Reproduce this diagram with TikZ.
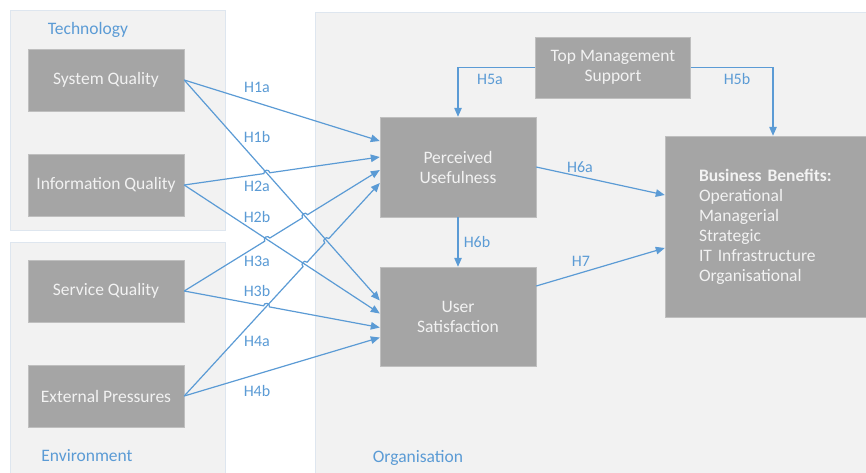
\documentclass[tikz,border=0pt]{standalone}
\usepackage{fontspec}
\setmainfont{Carlito}
\usetikzlibrary{arrows.meta,positioning,calc,intersections}
\definecolor{linkblue}{HTML}{5B9BD5}
\definecolor{boxgray}{HTML}{A5A5A5}
\definecolor{boxedge}{HTML}{BFBFBF}
\definecolor{panelgray}{HTML}{F2F2F2}
\definecolor{paneledge}{HTML}{DEE6EF}
\begin{document}
\begin{tikzpicture}[x=1pt,y=-1pt]

    \tikzset{
      factor/.style={
        draw=boxedge,
        fill=boxgray,
        text=panelgray,
        minimum width=156pt,
        minimum height=62pt,
        inner sep=0pt,
        align=center,
        font=\fontsize{17.5}{20}\selectfont,
      },
      link/.style={color=linkblue, line width=1.2pt, -{Triangle[length=9pt,width=7.5pt]}},
      hop/.style={bend left=90, looseness=1.7},
      hyp/.style={text=linkblue, font=\fontsize{16}{18}\selectfont},
      panel/.style={fill=panelgray, draw=paneledge},
    }
    \useasboundingbox (0,0) rectangle (866,472);
    \fill[white] (0,0) rectangle (866,472);

	% panels
	\draw[panel] (10,10) rectangle (225,230);
	\draw[panel] (10,242) rectangle (225,480);
	\draw[panel] (315,12) rectangle (880,480);
	\node[hyp,font=\fontsize{17.5}{20}\selectfont] (tech) at (88,30) {Technology};
	\node[hyp,font=\fontsize{17.5}{20}\selectfont] (env) at (87,456) {Environment};
	\node[hyp,font=\fontsize{17.5}{20}\selectfont] (org) at (418,458) {Organisation};

	% factors
	\node[factor] (sq) at (106,80) {System Quality};
	\node[factor] (iq) at (106,185) {Information Quality};
	\node[factor] (svq) at (106,291) {Service Quality};
	\node[factor] (ep) at (106,396) {External Pressures};
	\node[factor,minimum width=155pt,minimum height=61pt] (tms) at (613,67.5) {Top Management\\Support};
	\node[factor,minimum height=100pt] (pu) at (458,167) {Perceived\\Usefulness};
	\node[factor,minimum height=99pt] (us) at (458,316.5) {User\\Satisfaction};
	\node[factor,minimum width=201pt,minimum height=181pt,text width=133pt,inner xsep=34pt,align=left] (bb) at (765.5,226.5) {\textbf{Business Benefits:}\\Operational\\Managerial\\Strategic\\IT Infrastructure\\Organisational};

	% arrow ends on the left of PU and US
	\coordinate (pu1) at ([yshift=26pt]pu.west);
	\coordinate (pu2) at ([yshift=10pt]pu.west);
	\coordinate (pu3) at ([yshift=-3pt]pu.west);
	\coordinate (pu4) at ([yshift=-16pt]pu.west);
	\coordinate (us1) at ([yshift=16pt]us.west);
	\coordinate (us2) at ([yshift=3pt]us.west);
	\coordinate (us3) at ([yshift=-11pt]us.west);
	\coordinate (us4) at ([yshift=-21pt]us.west);

	% crossings
	\path[name path=l1b] (sq.east) -- (us1);
	\path[name path=l2a] (iq.east) -- (pu2);
	\path[name path=l2b] (iq.east) -- (us2);
	\path[name path=l3a] (svq.east) -- (pu3);
	\path[name path=l3b] (svq.east) -- (us3);
	\path[name path=l4a] (ep.east) -- (pu4);
	\path[name intersections={of=l1b and l2a,by=c1}];
	\path[name intersections={of=l2b and l3a,by=c2}];
	\path[name intersections={of=l1b and l3a,by=c3}];
	\path[name intersections={of=l2b and l4a,by=c4}];
	\path[name intersections={of=l1b and l4a,by=c5}];
	\path[name intersections={of=l4a and l3b,by=c6}];

	% hypotheses
	\draw[link] (sq.east) -- (pu1);
	\draw[link] (sq.east) -- (us1);
	\draw[link] (iq.east) -- ($(c1)!3pt!(iq.east)$) to[hop] ($(c1)!3pt!(pu2)$) -- (pu2);
	\draw[link] (iq.east) -- (us2);
	\draw[link] (svq.east) -- ($(c2)!3pt!(svq.east)$) to[hop] ($(c2)!3pt!(pu3)$)
		-- ($(c3)!3pt!(svq.east)$) to[hop] ($(c3)!3pt!(pu3)$) -- (pu3);
	\draw[link] (svq.east) -- ($(c6)!3pt!(svq.east)$) to[hop] ($(c6)!3pt!(us3)$) -- (us3);
	\draw[link] (ep.east) -- ($(c4)!3pt!(ep.east)$) to[hop] ($(c4)!3pt!(pu4)$)
		-- ($(c5)!3pt!(ep.east)$) to[hop] ($(c5)!3pt!(pu4)$) -- (pu4);
	\draw[link] (ep.east) -- (us4);
	\draw[link] (tms.west) -| (pu.north);
	\draw[link] (tms.east) -| ([xshift=7.5pt]bb.north);
	\draw[link] (pu.east) -- ([yshift=31.5pt]bb.west);
	\draw[link] (pu.south) -- (us.north);
	\draw[link] ([yshift=30.5pt]us.east) -- ([yshift=-21.5pt]bb.west);

	\node[hyp] (h1a) at (257,87) {H1a};
	\node[hyp] (h1b) at (257,137) {H1b};
	\node[hyp] (h2a) at (257,186) {H2a};
	\node[hyp] (h2b) at (257,217) {H2b};
	\node[hyp] (h3a) at (257,261) {H3a};
	\node[hyp] (h3b) at (257,291) {H3b};
	\node[hyp] (h4a) at (257,341) {H4a};
	\node[hyp] (h4b) at (257,391) {H4b};
	\node[hyp] (h5a) at (490,79) {H5a};
	\node[hyp] (h5b) at (737,79) {H5b};
	\node[hyp] (h6a) at (580,167) {H6a};
	\node[hyp] (h6b) at (477,242) {H6b};
	\node[hyp] (h7) at (581,261) {H7};

\end{tikzpicture}
\end{document}
